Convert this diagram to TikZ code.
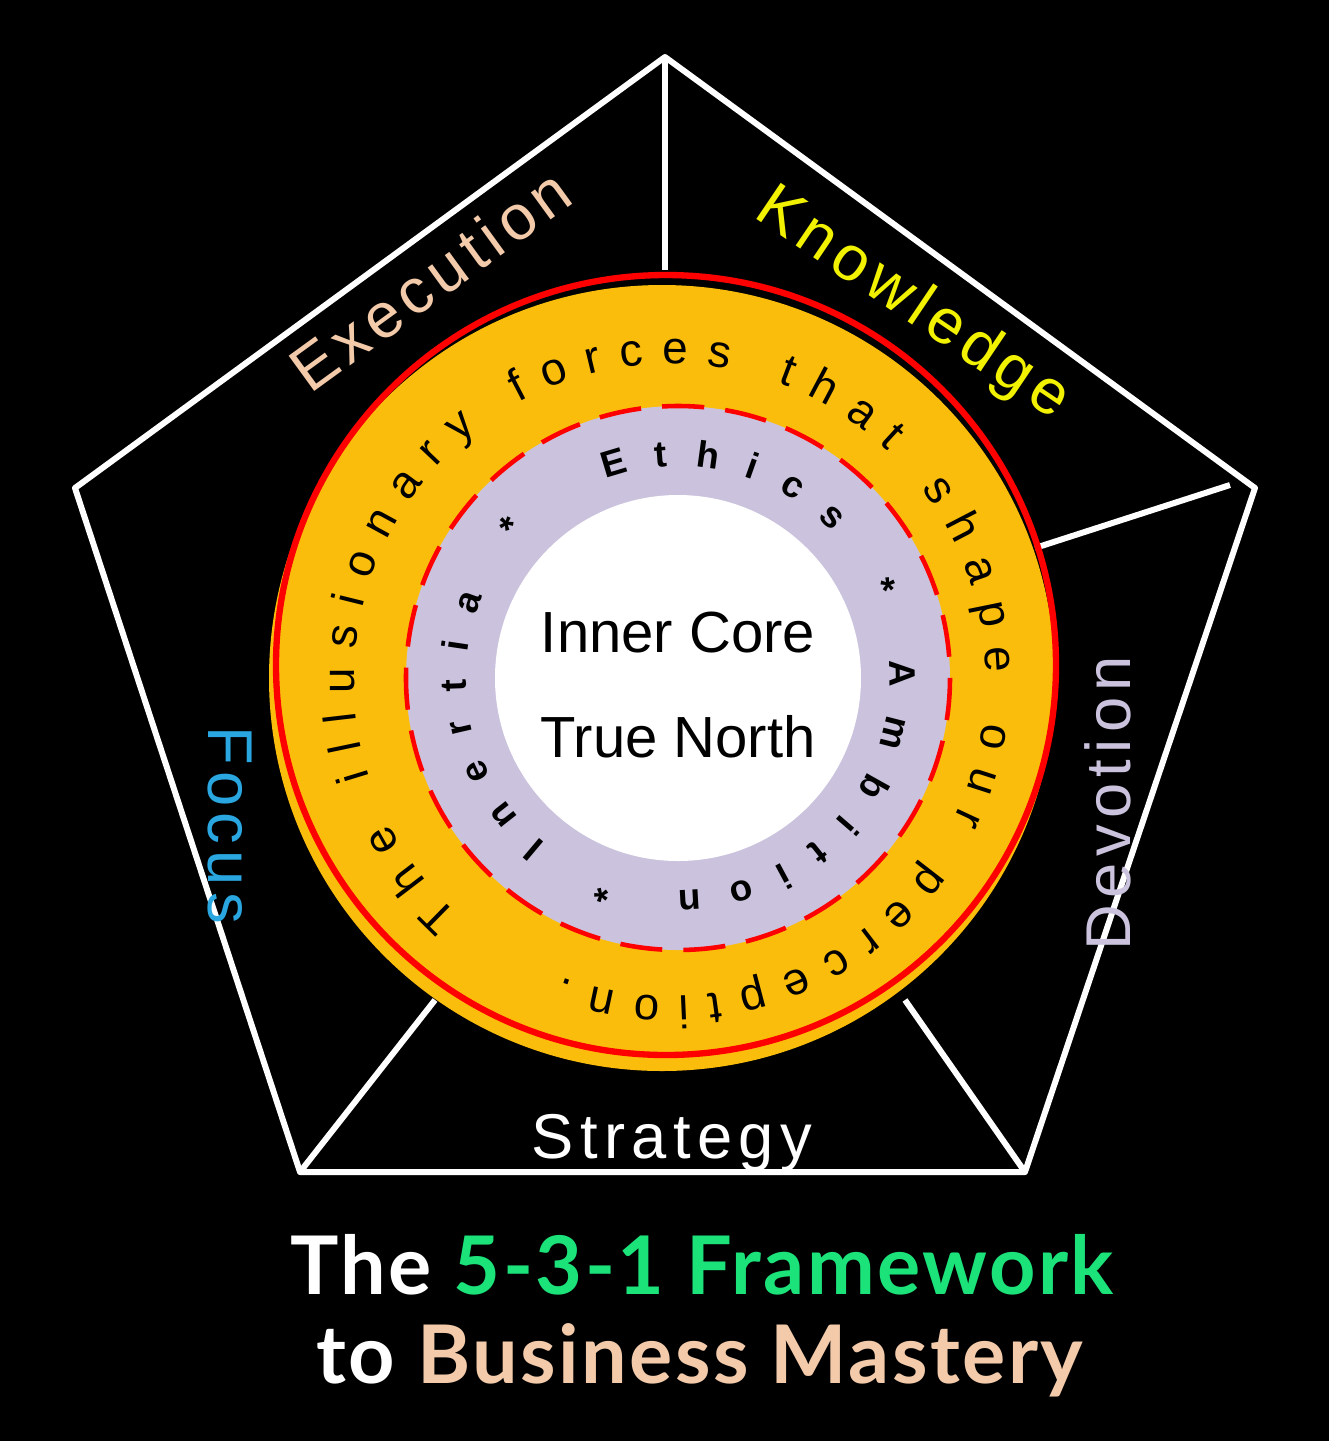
\documentclass[tikz,border=0pt]{standalone}
\usepackage{fontspec}
\setmainfont{Liberation Sans}
\newfontfamily\titlefont{Lato}
\usetikzlibrary{decorations.text}
\definecolor{peach}{HTML}{F3CBAA}
\definecolor{kyellow}{HTML}{F2F200}
\definecolor{lav}{HTML}{CBC3DD}
\definecolor{fblue}{HTML}{2AA7E0}
\definecolor{ring}{HTML}{FBBD0C}
\definecolor{tgreen}{HTML}{1CE27A}
\begin{document}
\begin{tikzpicture}[x=0.01cm,y=-0.01cm,
  edge/.style={white,line width=1.7pt,line join=round},
  lab/.style={font=\fontsize{18}{20}\selectfont\addfontfeature{LetterSpace=10}}]
\fill[black] (0,0) rectangle (1329,1441);
\useasboundingbox (0,0) rectangle (1329,1441);
\coordinate (T) at (665,57);
\coordinate (R) at (1255,488);
\coordinate (BR) at (1025,1172);
\coordinate (BL) at (300,1172);
\coordinate (L) at (75,488);
\coordinate (t1) at (665,270);
\coordinate (r1) at (1230,485);
\coordinate (r2) at (1035,548);
\coordinate (b1) at (905,1000);
\coordinate (b2) at (435,1000);
\draw[edge] (T) -- (R) -- (BR) -- (BL) -- (L) -- cycle;
\draw[edge] (T) -- (t1);
\draw[edge] (r1) -- (r2);
\draw[edge] (BR) -- (b1);
\draw[edge] (BL) -- (b2);
% rings
\fill[ring] (662,678) circle (393);
\draw[red,line width=1.8pt] (666,665) circle (390);
\fill[lav] (678,678) circle (272);
\draw[red,line width=1.3pt,dash pattern=on 12pt off 6pt] (678,678) circle (272);
\fill[white] (678,678) circle (183);
\node[font=\fontsize{16.5}{18}\selectfont] (c1) at (678,633) {Inner Core};
\node[font=\fontsize{16.5}{18}\selectfont] (c2) at (678,737) {True North};
% ring texts
\path[decorate,decoration={text along path,text align=fit to path,
  text={|\fontsize{13}{15}\selectfont|The illusionary forces that shape our perception.}}]
  (670,680) ++(-228:316) arc[start angle=-228,end angle=110,radius=316];
\path[decorate,decoration={text along path,text align=fit to path,
  text={|\fontsize{10.5}{12}\selectfont\bfseries|Ethics  *  Ambition  *  Inertia  *}}]
  (678,678) ++(-110:212) arc[start angle=-110,end angle=224,radius=212];
% labels
\node[lab,text=peach,rotate=36] (ex) at (430,280) {Execution};
\node[lab,text=kyellow,rotate=-34] (kn) at (912,305) {Knowledge};
\node[lab,text=lav,rotate=90] (dv) at (1108,803) {Devotion};
\node[lab,text=fblue,rotate=-90] (fc) at (230,825) {Focus};
\node[lab,text=white] (st) at (672,1143) {Strategy};
% title
\node[font=\titlefont\bfseries\fontsize{23}{25}\selectfont\addfontfeature{LetterSpace=3},text=white] (t1n) at (702,1265)
  {The \textcolor{tgreen}{5-3-1 Framework}};
\node[font=\titlefont\bfseries\fontsize{23}{25}\selectfont\addfontfeature{LetterSpace=3},text=white] (t2n) at (700,1360)
  {to \textcolor{peach}{Business Mastery}};
\end{tikzpicture}
\end{document}
